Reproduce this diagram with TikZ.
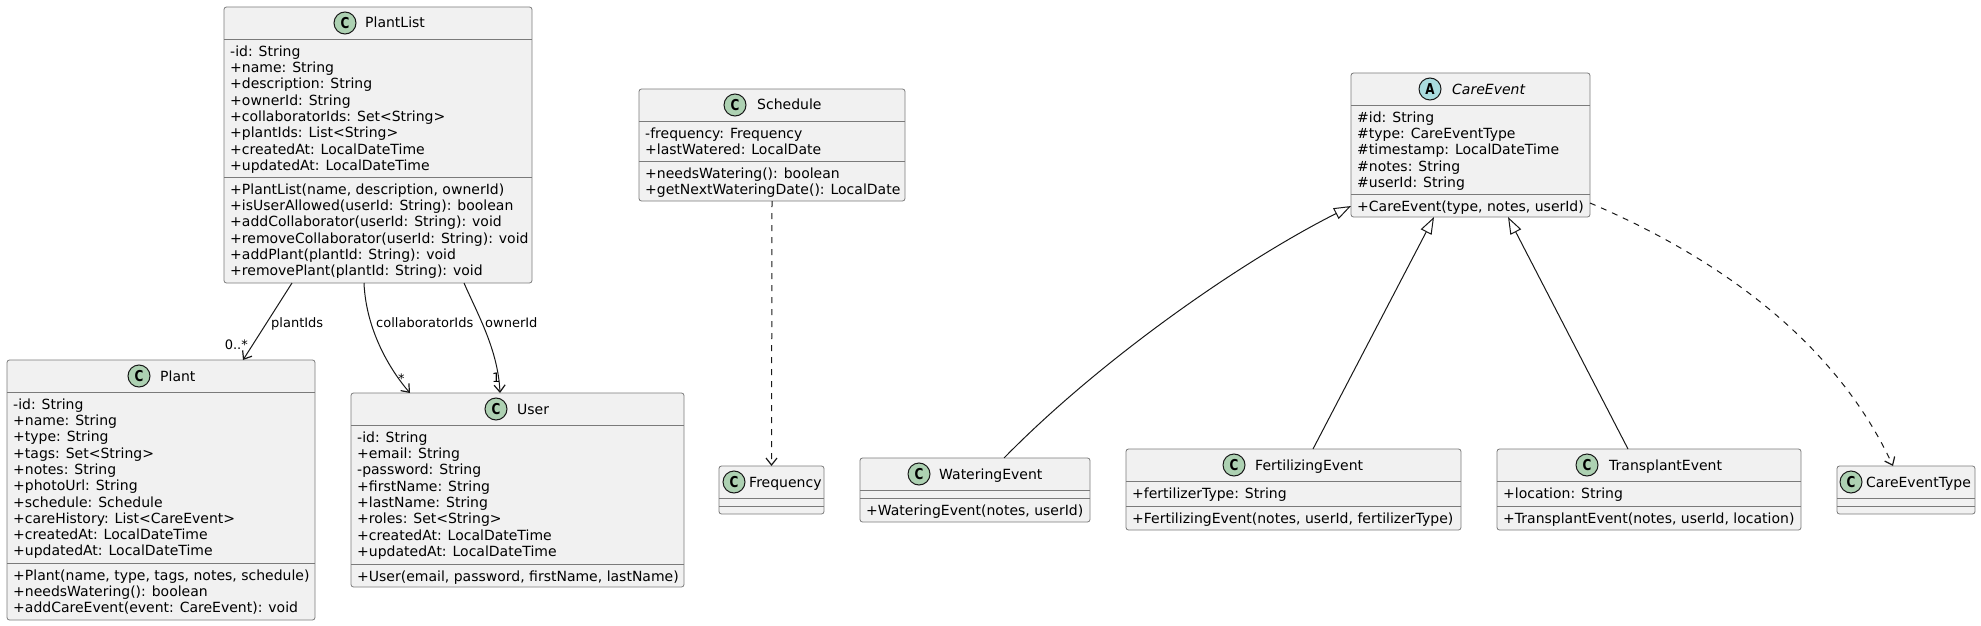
\documentclass[tikz,border=0pt]{standalone}
\usepackage{fontspec}
\setmainfont{DejaVu Sans}
\usetikzlibrary{arrows.meta}
\definecolor{umlline}{HTML}{181818}
\definecolor{umlborder}{HTML}{7A7A7A}
\definecolor{umlfill}{HTML}{F1F1F1}
\definecolor{classc}{HTML}{ADD1B2}
\definecolor{abstractc}{HTML}{A9DCDF}
\newcommand{\mstrut}{\rule{0pt}{13pt}}
\newcommand{\badgeC}{\scalebox{0.8}[1]{C}}
\tikzset{
  cls/.style={draw=umlborder, line width=0.8pt, fill=umlfill, rounded corners=2.5pt, inner sep=0pt, outer sep=0pt, anchor=north west},
  sep/.style={draw=umlborder, line width=0.8pt},
  badge/.style={circle, draw=umlline, line width=1pt, fill=classc, minimum size=22pt, inner sep=0pt, font=\fontsize{15}{15}\selectfont\bfseries},
  ttl/.style={anchor=base west, inner sep=0pt, font=\fontsize{14}{16.3}\selectfont},
  mem/.style={anchor=north west, align=left, inner sep=0pt, font=\fontsize{14}{16.3}\selectfont},
  lbl/.style={inner sep=0pt, font=\fontsize{13}{15}\selectfont},
  assoc/.style={draw=umlline, line width=1pt, -{Straight Barb[length=7pt,width=11pt,line width=1.2pt]}},
  dep/.style={assoc, dash pattern=on 6pt off 6pt},
  gen/.style={draw=umlline, line width=1pt, -{Triangle[open,length=17pt,width=12pt]}},
}
\begin{document}
\begin{tikzpicture}[x=1pt,y=-1pt]
\useasboundingbox (0,0) rectangle (1981,626);
\node[cls, minimum width=308pt, minimum height=276pt] (plantlist) at (224,7) {};
\draw[sep] (plantlist.west |- 0,39) -- (plantlist.east |- 0,39);
\draw[sep] (plantlist.west |- 0,177) -- (plantlist.east |- 0,177);
\node[badge] (plantlist-b) at (345,23) {\badgeC};
\node[ttl] (plantlist-t) at (365,28) {PlantList};
\node[mem] (plantlist-a) at (230,43) {\mstrut-id: String\\+name: String\\+description: String\\+ownerId: String\\+collaboratorIds: Set<String>\\+plantIds: List<String>\\+createdAt: LocalDateTime\\+updatedAt: LocalDateTime};
\node[mem] (plantlist-m) at (230,181) {\mstrut+PlantList(name, description, ownerId)\\+isUserAllowed(userId: String): boolean\\+addCollaborator(userId: String): void\\+removeCollaborator(userId: String): void\\+addPlant(plantId: String): void\\+removePlant(plantId: String): void};

\node[cls, minimum width=308pt, minimum height=260pt] (plant) at (7,360) {};
\draw[sep] (plant.west |- 0,392) -- (plant.east |- 0,392);
\draw[sep] (plant.west |- 0,563) -- (plant.east |- 0,563);
\node[badge] (plant-b) at (139,376) {\badgeC};
\node[ttl] (plant-t) at (160,381) {Plant};
\node[mem] (plant-a) at (13,396) {\mstrut-id: String\\+name: String\\+type: String\\+tags: Set<String>\\+notes: String\\+photoUrl: String\\+schedule: Schedule\\+careHistory: List<CareEvent>\\+createdAt: LocalDateTime\\+updatedAt: LocalDateTime};
\node[mem] (plant-m) at (13,567) {\mstrut+Plant(name, type, tags, notes, schedule)\\+needsWatering(): boolean\\+addCareEvent(event: CareEvent): void};

\node[cls, minimum width=333pt, minimum height=194pt] (user) at (351,393) {};
\draw[sep] (user.west |- 0,425) -- (user.east |- 0,425);
\draw[sep] (user.west |- 0,564) -- (user.east |- 0,564);
\node[badge] (user-b) at (496,409) {\badgeC};
\node[ttl] (user-t) at (517,414) {User};
\node[mem] (user-a) at (357,429) {\mstrut-id: String\\+email: String\\-password: String\\+firstName: String\\+lastName: String\\+roles: Set<String>\\+createdAt: LocalDateTime\\+updatedAt: LocalDateTime};
\node[mem] (user-m) at (357,568) {\mstrut+User(email, password, firstName, lastName)};

\node[cls, minimum width=266pt, minimum height=112pt] (schedule) at (639,89) {};
\draw[sep] (schedule.west |- 0,121) -- (schedule.east |- 0,121);
\draw[sep] (schedule.west |- 0,161) -- (schedule.east |- 0,161);
\node[badge] (schedule-b) at (735,105) {\badgeC};
\node[ttl] (schedule-t) at (757,110) {Schedule};
\node[mem] (schedule-a) at (645,125) {\mstrut-frequency: Frequency\\+lastWatered: LocalDate};
\node[mem] (schedule-m) at (645,165) {\mstrut+needsWatering(): boolean\\+getNextWateringDate(): LocalDate};

\node[cls, minimum width=105pt, minimum height=48pt] (frequency) at (719,466) {};
\draw[sep] (frequency.west |- 0,498) -- (frequency.east |- 0,498);
\draw[sep] (frequency.west |- 0,506) -- (frequency.east |- 0,506);
\node[badge] (frequency-b) at (734,482) {\badgeC};
\node[ttl] (frequency-t) at (749,487) {Frequency};

\node[cls, minimum width=239pt, minimum height=144pt] (careevent) at (1351,73) {};
\draw[sep] (careevent.west |- 0,105) -- (careevent.east |- 0,105);
\draw[sep] (careevent.west |- 0,194) -- (careevent.east |- 0,194);
\node[badge, fill=abstractc] (careevent-b) at (1430,89) {\scalebox{0.8}[1]{A}};
\node[ttl] (careevent-t) at (1452,94) {\itshape CareEvent};
\node[mem] (careevent-a) at (1357,109) {\mstrut\#id: String\\\#type: CareEventType\\\#timestamp: LocalDateTime\\\#notes: String\\\#userId: String};
\node[mem] (careevent-m) at (1357,198) {\mstrut+CareEvent(type, notes, userId)};

\node[cls, minimum width=230pt, minimum height=64pt] (watering) at (860,458) {};
\draw[sep] (watering.west |- 0,490) -- (watering.east |- 0,490);
\draw[sep] (watering.west |- 0,498) -- (watering.east |- 0,498);
\node[badge] (watering-b) at (919,474) {\badgeC};
\node[ttl] (watering-t) at (939,479) {WateringEvent};
\node[mem] (watering-m) at (866,502) {\mstrut+WateringEvent(notes, userId)};

\node[cls, minimum width=335pt, minimum height=81pt] (fertilizing) at (1126,449) {};
\draw[sep] (fertilizing.west |- 0,481) -- (fertilizing.east |- 0,481);
\draw[sep] (fertilizing.west |- 0,506) -- (fertilizing.east |- 0,506);
\node[badge] (fertilizing-b) at (1234,465) {\badgeC};
\node[ttl] (fertilizing-t) at (1255,470) {FertilizingEvent};
\node[mem] (fertilizing-a) at (1132,485) {\mstrut+fertilizerType: String};
\node[mem] (fertilizing-m) at (1132,510) {\mstrut+FertilizingEvent(notes, userId, fertilizerType)};

\node[cls, minimum width=304pt, minimum height=81pt] (transplant) at (1497,449) {};
\draw[sep] (transplant.west |- 0,481) -- (transplant.east |- 0,481);
\draw[sep] (transplant.west |- 0,506) -- (transplant.east |- 0,506);
\node[badge] (transplant-b) at (1587,465) {\badgeC};
\node[ttl] (transplant-t) at (1609,470) {TransplantEvent};
\node[mem] (transplant-a) at (1503,485) {\mstrut+location: String};
\node[mem] (transplant-m) at (1503,510) {\mstrut+TransplantEvent(notes, userId, location)};

\node[cls, minimum width=138pt, minimum height=48pt] (careeventtype) at (1837,466) {};
\draw[sep] (careeventtype.west |- 0,498) -- (careeventtype.east |- 0,498);
\draw[sep] (careeventtype.west |- 0,506) -- (careeventtype.east |- 0,506);
\node[badge] (careeventtype-b) at (1851,482) {\badgeC};
\node[ttl] (careeventtype-t) at (1866,487) {CareEventType};

\draw[assoc] (292,0 |- plantlist.south) -- (243,0 |- plant.north);
\draw[assoc] (364,0 |- plantlist.south) .. controls (366,330) and (390,370) .. (410,0 |- user.north);
\draw[assoc] (464,0 |- plantlist.south) .. controls (478,315) and (498,350) .. (500,0 |- user.north);
\node[lbl, anchor=base west] (l-plantids) at (271,327) {plantIds};
\node[lbl, anchor=base east] (l-plantmult) at (248,349) {0..*};
\node[lbl, anchor=base west] (l-collab) at (376,327) {collaboratorIds};
\node[lbl, anchor=base west] (l-collabmult) at (398,383) {*};
\node[lbl, anchor=base west] (l-owner) at (485,327) {ownerId};
\node[lbl, anchor=base west] (l-ownermult) at (492,382) {1};

\draw[dep] (schedule.south) -- (frequency.north);

\draw[gen] (1004,0 |- watering.north) .. controls (1100,360) and (1240,262) .. (careevent.west |- 0,206);
\draw[gen] (1313,0 |- fertilizing.north) -- (1434,0 |- careevent.south);
\draw[gen] (1628,0 |- transplant.north) -- (1508,0 |- careevent.south);
\draw[dep] (careevent.east |- 0,203) .. controls (1700,250) and (1830,330) .. (1893,0 |- careeventtype.north);
\end{tikzpicture}
\end{document}
